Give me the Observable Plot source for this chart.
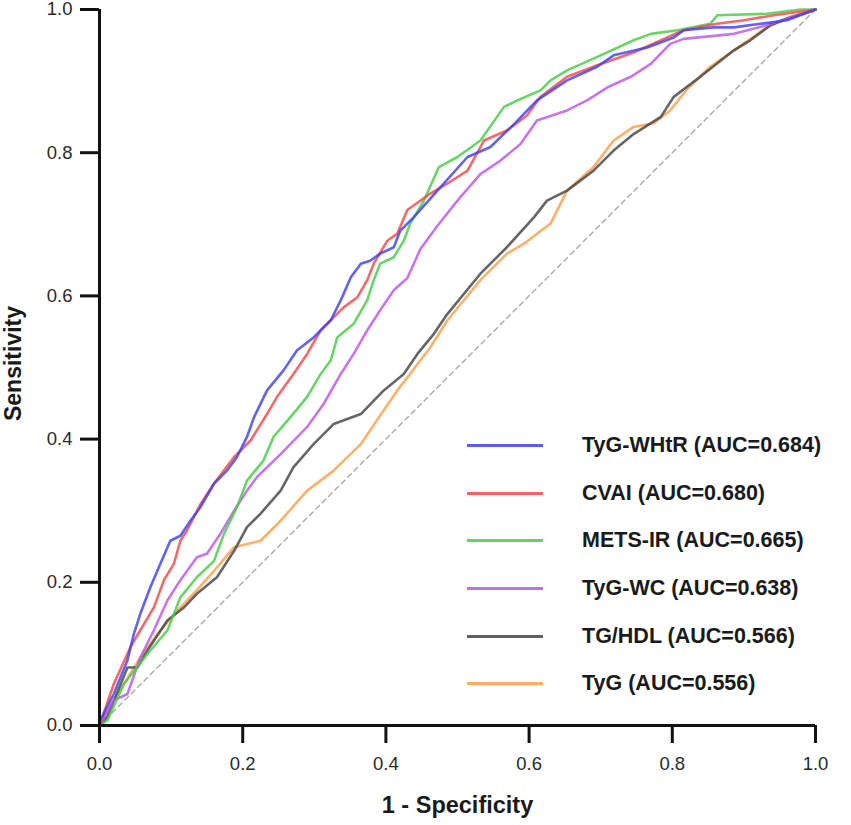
<!DOCTYPE html>
<html>
<head>
<meta charset="utf-8">
<script src="https://cdn.jsdelivr.net/npm/d3@7"></script>
<script src="https://cdn.jsdelivr.net/npm/@observablehq/plot@0.6"></script>
<style>
  html, body { margin: 0; padding: 0; background: #fff; }
  #wrap { position: relative; width: 851px; height: 825px; font-family: "Liberation Sans", Arial, sans-serif; }
  #legend { position: absolute; left: 467px; top: 422px; }
  .row { display: flex; align-items: center; height: 47.6px; }
  .sw { width: 76px; height: 3px; margin-right: 39px; }
  .lab { font-size: 21.5px; font-weight: bold; color: #1a1a1a; white-space: nowrap; }
</style>
</head>
<body>
<div id="wrap"><div id="chart"></div><div id="legend"></div></div>
<script>
const seriesNames = ["TyG-WHtR", "CVAI", "METS-IR", "TyG-WC", "TG/HDL", "TyG"];
const aucValues = ["0.684", "0.680", "0.665", "0.638", "0.566", "0.556"];
const seriesColors = ["#4040f5", "#f54848", "#48cc48", "#bb55ee", "#444444", "#ffa04a"];
const xTicks = [0, 0.2, 0.4, 0.6, 0.8, 1.0];
const yTicks = [0, 0.2, 0.4, 0.6, 0.8, 1.0];

const tygWhtrFpr = [0, 0.001, 0.020, 0.039, 0.048, 0.057, 0.071, 0.085, 0.099, 0.113, 0.127, 0.141, 0.160, 0.178, 0.192, 0.206, 0.216, 0.234, 0.257, 0.276, 0.299, 0.323, 0.337, 0.351, 0.365, 0.378, 0.392, 0.411, 0.420, 0.439, 0.472, 0.514, 0.546, 0.579, 0.611, 0.653, 0.695, 0.718, 0.765, 0.802, 0.816, 0.858, 0.886, 0.923, 0.960, 1.0];
const tygWhtrTpr = [0, 0.007, 0.044, 0.091, 0.128, 0.156, 0.193, 0.226, 0.258, 0.265, 0.286, 0.305, 0.338, 0.356, 0.375, 0.403, 0.431, 0.468, 0.496, 0.524, 0.542, 0.566, 0.594, 0.626, 0.645, 0.649, 0.659, 0.668, 0.691, 0.710, 0.747, 0.794, 0.808, 0.840, 0.873, 0.901, 0.920, 0.936, 0.947, 0.961, 0.971, 0.975, 0.975, 0.980, 0.985, 1.0];

const cvaiFpr = [0, 0.020, 0.043, 0.057, 0.076, 0.090, 0.104, 0.113, 0.122, 0.141, 0.160, 0.188, 0.211, 0.234, 0.248, 0.271, 0.290, 0.309, 0.327, 0.341, 0.360, 0.374, 0.383, 0.402, 0.416, 0.430, 0.462, 0.486, 0.514, 0.537, 0.569, 0.597, 0.616, 0.653, 0.700, 0.746, 0.793, 0.816, 0.863, 0.900, 0.942, 1.0];
const cvaiTpr = [0, 0.058, 0.109, 0.133, 0.165, 0.203, 0.226, 0.258, 0.272, 0.309, 0.338, 0.375, 0.398, 0.435, 0.459, 0.491, 0.519, 0.552, 0.570, 0.584, 0.598, 0.622, 0.645, 0.677, 0.687, 0.720, 0.743, 0.757, 0.775, 0.817, 0.831, 0.852, 0.878, 0.906, 0.924, 0.940, 0.961, 0.971, 0.980, 0.985, 0.992, 1.0];

const metsIrFpr = [0, 0.011, 0.034, 0.067, 0.095, 0.113, 0.136, 0.160, 0.174, 0.192, 0.206, 0.229, 0.243, 0.267, 0.290, 0.309, 0.323, 0.332, 0.355, 0.374, 0.383, 0.392, 0.411, 0.425, 0.434, 0.453, 0.474, 0.500, 0.532, 0.565, 0.588, 0.616, 0.630, 0.653, 0.700, 0.746, 0.770, 0.807, 0.853, 0.863, 0.932, 0.979, 1.0];
const metsIrTpr = [0, 0.007, 0.058, 0.100, 0.133, 0.179, 0.207, 0.230, 0.268, 0.305, 0.342, 0.370, 0.403, 0.431, 0.459, 0.491, 0.510, 0.542, 0.561, 0.594, 0.622, 0.645, 0.654, 0.677, 0.701, 0.733, 0.780, 0.794, 0.817, 0.864, 0.875, 0.887, 0.901, 0.915, 0.936, 0.957, 0.966, 0.971, 0.980, 0.992, 0.994, 1.0, 1.0];

const tygWcFpr = [0, 0.020, 0.039, 0.057, 0.076, 0.095, 0.113, 0.136, 0.150, 0.169, 0.188, 0.206, 0.220, 0.253, 0.290, 0.313, 0.337, 0.355, 0.374, 0.392, 0.411, 0.430, 0.448, 0.472, 0.504, 0.532, 0.560, 0.588, 0.611, 0.653, 0.681, 0.709, 0.742, 0.770, 0.797, 0.816, 0.886, 0.932, 1.0];
const tygWcTpr = [0, 0.035, 0.044, 0.095, 0.133, 0.175, 0.203, 0.235, 0.240, 0.268, 0.300, 0.328, 0.347, 0.379, 0.417, 0.449, 0.491, 0.519, 0.552, 0.580, 0.608, 0.625, 0.665, 0.698, 0.738, 0.770, 0.789, 0.812, 0.845, 0.859, 0.873, 0.891, 0.906, 0.924, 0.952, 0.959, 0.966, 0.978, 1.0];

const tgHdlFpr = [0, 0.011, 0.039, 0.053, 0.067, 0.095, 0.118, 0.136, 0.164, 0.188, 0.206, 0.225, 0.253, 0.271, 0.299, 0.327, 0.365, 0.397, 0.425, 0.444, 0.467, 0.486, 0.532, 0.569, 0.607, 0.625, 0.653, 0.690, 0.718, 0.746, 0.784, 0.802, 0.839, 0.886, 0.909, 0.937, 0.960, 1.0];
const tgHdlTpr = [0, 0.012, 0.081, 0.081, 0.105, 0.147, 0.165, 0.184, 0.207, 0.244, 0.277, 0.296, 0.328, 0.361, 0.393, 0.421, 0.435, 0.468, 0.491, 0.519, 0.547, 0.575, 0.631, 0.668, 0.710, 0.733, 0.747, 0.775, 0.803, 0.826, 0.850, 0.878, 0.906, 0.943, 0.957, 0.978, 0.987, 1.0];

const tygFpr = [0, 0.020, 0.057, 0.085, 0.113, 0.136, 0.160, 0.188, 0.225, 0.253, 0.290, 0.327, 0.365, 0.392, 0.416, 0.439, 0.462, 0.486, 0.532, 0.569, 0.593, 0.630, 0.653, 0.690, 0.718, 0.746, 0.774, 0.797, 0.821, 0.853, 0.886, 0.932, 0.965, 1.0];
const tygTpr = [0, 0.035, 0.095, 0.133, 0.165, 0.189, 0.216, 0.249, 0.258, 0.286, 0.328, 0.356, 0.393, 0.433, 0.468, 0.498, 0.528, 0.566, 0.622, 0.659, 0.673, 0.701, 0.747, 0.780, 0.817, 0.836, 0.841, 0.859, 0.889, 0.920, 0.943, 0.975, 0.990, 1.0];

const refLine = [0, 1];

const curves = [
  [seriesNames[5], tygFpr, tygTpr],
  [seriesNames[4], tgHdlFpr, tgHdlTpr],
  [seriesNames[3], tygWcFpr, tygWcTpr],
  [seriesNames[2], metsIrFpr, metsIrTpr],
  [seriesNames[1], cvaiFpr, cvaiTpr],
  [seriesNames[0], tygWhtrFpr, tygWhtrTpr]
];
const rows = curves.flatMap(([name, xs, ys]) => xs.map((x, i) => ({series: name, fpr: x, tpr: ys[i]})));

const font = "'Liberation Sans', Arial, sans-serif";
const chart = Plot.plot({
  width: 851,
  height: 825,
  marginLeft: 99,
  marginRight: 36,
  marginTop: 9,
  marginBottom: 100,
  style: {fontFamily: font, background: "#fff", overflow: "visible"},
  x: {domain: [0, 1]},
  y: {domain: [0, 1]},
  color: {domain: seriesNames, range: seriesColors},
  marks: [
    Plot.line(refLine, {x: d => d, y: d => d, stroke: "#a8a8a8", strokeWidth: 1.4, strokeDasharray: "5,4"}),
    Plot.line(rows, {x: "fpr", y: "tpr", z: "series", stroke: "series", strokeWidth: 2.6, strokeOpacity: 0.82, strokeLinejoin: "round"}),
    Plot.axisX({ticks: xTicks, tickFormat: d3.format(".1f"), tickSize: 18, tickPadding: 13, strokeWidth: 3, fontSize: 18.5, fill: "#2a2a2a", stroke: "#111", label: null}),
    Plot.axisY({ticks: yTicks, tickFormat: d3.format(".1f"), tickSize: 19, tickPadding: 8, strokeWidth: 3, fontSize: 18.5, fill: "#2a2a2a", stroke: "#111", label: null}),
    Plot.ruleY([0], {stroke: "#111", strokeWidth: 3}),
    Plot.ruleX([0], {stroke: "#111", strokeWidth: 3}),
    Plot.text(["1 - Specificity"], {frameAnchor: "bottom", dy: 80, fontSize: 23.5, fontWeight: "bold", fill: "#1a1a1a", lineAnchor: "middle"}),
    Plot.text(["Sensitivity"], {frameAnchor: "left", dx: -86, dy: -4, rotate: -90, fontSize: 23, fontWeight: "bold", fill: "#1a1a1a", lineAnchor: "middle", textAnchor: "middle"})
  ]
});
document.getElementById("chart").appendChild(chart);

const legend = document.getElementById("legend");
seriesNames.forEach((name, i) => {
  const row = document.createElement("div");
  row.className = "row";
  const sw = document.createElement("div");
  sw.className = "sw";
  sw.style.background = seriesColors[i];
  sw.style.opacity = 0.85;
  const lab = document.createElement("div");
  lab.className = "lab";
  lab.textContent = `${name} (AUC=${aucValues[i]})`;
  row.appendChild(sw);
  row.appendChild(lab);
  legend.appendChild(row);
});
</script>
</body>
</html>
